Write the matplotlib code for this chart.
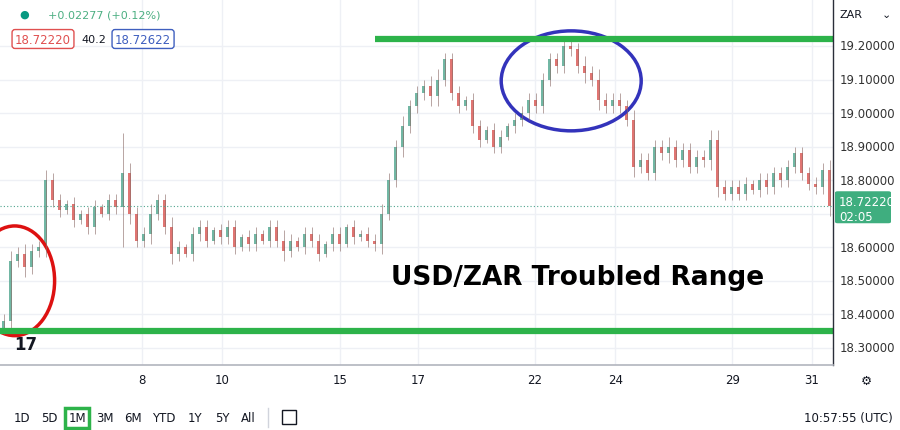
import numpy as np
import matplotlib
matplotlib.use("Agg")
import matplotlib.pyplot as plt
from matplotlib.patches import Ellipse, FancyBboxPatch, Rectangle

# closing prices, one candle per ~7 px of the screenshot
closes = [18.38, 18.56, 18.58, 18.54, 18.59, 18.60, 18.80, 18.74, 18.71, 18.73,
          18.68, 18.70, 18.66, 18.72, 18.70, 18.74, 18.72, 18.82, 18.70, 18.62,
          18.64, 18.70, 18.74, 18.66, 18.58, 18.60, 18.58, 18.64, 18.66, 18.62,
          18.65, 18.63, 18.66, 18.60, 18.63, 18.61, 18.64, 18.62, 18.66, 18.62,
          18.59, 18.62, 18.60, 18.64, 18.62, 18.58, 18.61, 18.64, 18.61, 18.66,
          18.63, 18.64, 18.62, 18.61, 18.70, 18.80, 18.90, 18.96, 19.02, 19.06,
          19.08, 19.05, 19.10, 19.16, 19.06, 19.02, 19.04, 18.96, 18.92, 18.95,
          18.90, 18.93, 18.96, 18.98, 19.00, 19.04, 19.02, 19.10, 19.16, 19.14,
          19.20, 19.19, 19.14, 19.12, 19.10, 19.04, 19.02, 19.04, 19.02, 18.98,
          18.84, 18.86, 18.82, 18.90, 18.88, 18.90, 18.86, 18.89, 18.84, 18.87,
          18.86, 18.92, 18.78, 18.76, 18.78, 18.76, 18.79, 18.77, 18.80, 18.78,
          18.82, 18.80, 18.84, 18.88, 18.82, 18.79, 18.78, 18.83, 18.7222]
first_open = 18.36
wicks = [0.02, 0.03, 0.02, 0.03, 0.02, 0.02, 0.03, 0.02, 0.02, 0.01,
         0.02, 0.01, 0.02, 0.02, 0.01, 0.02, 0.02, 0.12, 0.03, 0.02,
         0.02, 0.03, 0.02, 0.02, 0.03, 0.02, 0.01, 0.02, 0.02, 0.02,
         0.01, 0.02, 0.02, 0.02, 0.01, 0.02, 0.02, 0.01, 0.02, 0.02,
         0.03, 0.02, 0.01, 0.02, 0.02, 0.02, 0.01, 0.02, 0.02, 0.01,
         0.02, 0.01, 0.02, 0.02, 0.03, 0.02, 0.02, 0.03, 0.02, 0.02,
         0.02, 0.03, 0.03, 0.02, 0.02, 0.02, 0.01, 0.02, 0.02, 0.01,
         0.02, 0.02, 0.01, 0.02, 0.02, 0.02, 0.02, 0.02, 0.02, 0.02,
         0.02, 0.02, 0.02, 0.03, 0.02, 0.03, 0.02, 0.02, 0.02, 0.02,
         0.03, 0.02, 0.02, 0.02, 0.02, 0.03, 0.02, 0.02, 0.02, 0.02,
         0.02, 0.03, 0.03, 0.02, 0.02, 0.02, 0.02, 0.01, 0.02, 0.02,
         0.02, 0.02, 0.02, 0.02, 0.02, 0.02, 0.02, 0.02, 0.03]
date_labels = ["8", "10", "15", "17", "22", "24", "29", "31"]
date_pos = [20.3, 31.7, 48.6, 59.7, 76.4, 87.9, 104.6, 116.0]
price_ticks = [18.3, 18.4, 18.5, 18.6, 18.7, 18.8, 18.9, 19.0, 19.1, 19.2]
support, resistance = 18.35, 19.22
last_price = 18.7222

opens = [first_open] + closes[:-1]
UP, DOWN = "#4fa58e", "#d9534f"
YMIN, YMAX = 18.249, 19.34

fig = plt.figure(figsize=(9, 4.31), dpi=100)
ax = fig.add_axes([0, 65 / 431, 833 / 900, 366 / 431])
ax.set_xlim(0, 119)
ax.set_ylim(YMIN, YMAX)

for p in price_ticks:
    ax.axhline(p, color="#eef0f5", lw=1, zorder=0)
for d in date_pos:
    ax.axvline(d, color="#eef0f5", lw=1, zorder=0)

for i, (o, c, w) in enumerate(zip(opens, closes, wicks)):
    col = UP if c >= o else DOWN
    ax.vlines(i + 0.5, min(o, c) - w, max(o, c) + w, color="#8a6a66", lw=0.6, alpha=0.7)
    ax.add_patch(Rectangle((i + 0.5 - 0.17, min(o, c)), 0.34, max(abs(c - o), 0.002),
                           color=col, alpha=0.8, lw=0))

ax.axhline(last_price, color=UP, lw=0.8, ls=(0, (1, 2)))
ax.plot([375 / 7, 119], [resistance, resistance], color="#2db34a", lw=4.5, solid_capstyle="butt")
ax.plot([0, 119], [support, support], color="#2db34a", lw=4.5, solid_capstyle="butt")
ax.add_patch(Ellipse((81.6, 19.096), 20, 0.298, fill=False, ec="#3333bb", lw=2.5))
ax.add_patch(Ellipse((2.1, 18.50), 11.4, 0.327, fill=False, ec="#dd1111", lw=2.5))
ax.text(82.5, 18.51, "USD/ZAR Troubled Range", fontsize=19, fontweight="bold",
        ha="center", va="center", color="black")

ax.set_xticks([])
ax.set_yticks([])
for s in ax.spines.values():
    s.set_visible(False)

# right price scale
for p in price_ticks:
    if abs(p - last_price) < 0.03:
        continue
    yf = (65 + (p - YMIN) / (YMAX - YMIN) * 366) / 431
    fig.text(840 / 900, yf, f"{p:.5f}", fontsize=8.5, color="#333333", va="center")
yl = (65 + (last_price - YMIN) / (YMAX - YMIN) * 366) / 431
fig.patches.append(FancyBboxPatch((835 / 900, yl - 17 / 431), 56 / 900, 32 / 431,
                                  boxstyle="round,pad=0,rounding_size=0.003",
                                  transform=fig.transFigure, fc="#3fae7f", ec="none"))
fig.text(839 / 900, yl + 0.012, "18.72220", fontsize=8.5, color="white", va="center")
fig.text(839 / 900, yl - 0.024, "02:05", fontsize=8.5, color="white", va="center")
fig.add_artist(plt.Line2D([833 / 900, 833 / 900], [65 / 431, 1], color="#2a2e39", lw=1))
fig.text(840 / 900, 416 / 431, "ZAR", fontsize=8, color="#131722", va="center")
fig.text(882 / 900, 416 / 431, "⌄", fontsize=8, color="#131722", va="center")

# time axis
fig.add_artist(plt.Line2D([0, 833 / 900], [65 / 431, 65 / 431], color="#b2b5be", lw=1.2))
for d, lab in zip(date_pos, date_labels):
    fig.text(d * 7 / 900, 50 / 431, lab, fontsize=8.5, color="#131722", ha="center", va="center")
fig.text(866 / 900, 50 / 431, "⚙", fontsize=9, color="#131722", ha="center", va="center")

# header legend
fig.text(24 / 900, 416 / 431, "●", fontsize=8, color="#089981", ha="center", va="center")
fig.text(48 / 900, 416 / 431, "+0.02277 (+0.12%)", fontsize=8, color="#4caf82", va="center")
fig.text(15 / 900, 391 / 431, "18.72220", fontsize=8.5, color="#e05050", va="center",
         bbox=dict(boxstyle="round,pad=0.25", fc="white", ec="#e05050"))
fig.text(81 / 900, 391 / 431, "40.2", fontsize=8, color="#131722", va="center")
fig.text(115 / 900, 391 / 431, "18.72622", fontsize=8.5, color="#3f5fbf", va="center",
         bbox=dict(boxstyle="round,pad=0.25", fc="white", ec="#3f5fbf"))

# bottom toolbar
tb = ["1D", "5D", "1M", "3M", "6M", "YTD", "1Y", "5Y", "All"]
tbx = [22, 49, 77, 105, 133, 164, 195, 222, 248]
for x, lab in zip(tbx, tb):
    fig.text(x / 900, 12 / 431, lab, fontsize=8.5, color="#131722", ha="center", va="center",
             bbox=dict(boxstyle="square,pad=0.3", fc="none", ec="#2db34a", lw=2.5) if lab == "1M" else None)
fig.add_artist(plt.Line2D([268 / 900, 268 / 900], [3 / 431, 22 / 431], color="#d1d4dc", lw=1))
# calendar icon drawn as a shape
fig.patches.append(Rectangle((282 / 900, 6 / 431), 14 / 900, 14 / 431, transform=fig.transFigure,
                             fill=False, ec="#131722", lw=1))
fig.text(893 / 900, 12 / 431, "10:57:55 (UTC)", fontsize=8.5, color="#131722", ha="right", va="center")
fig.text(26 / 900, 86 / 431, "17", fontsize=12, fontweight="bold", color="#131722", ha="center", va="center")

fig.savefig("out.png", dpi=100, facecolor="white")
